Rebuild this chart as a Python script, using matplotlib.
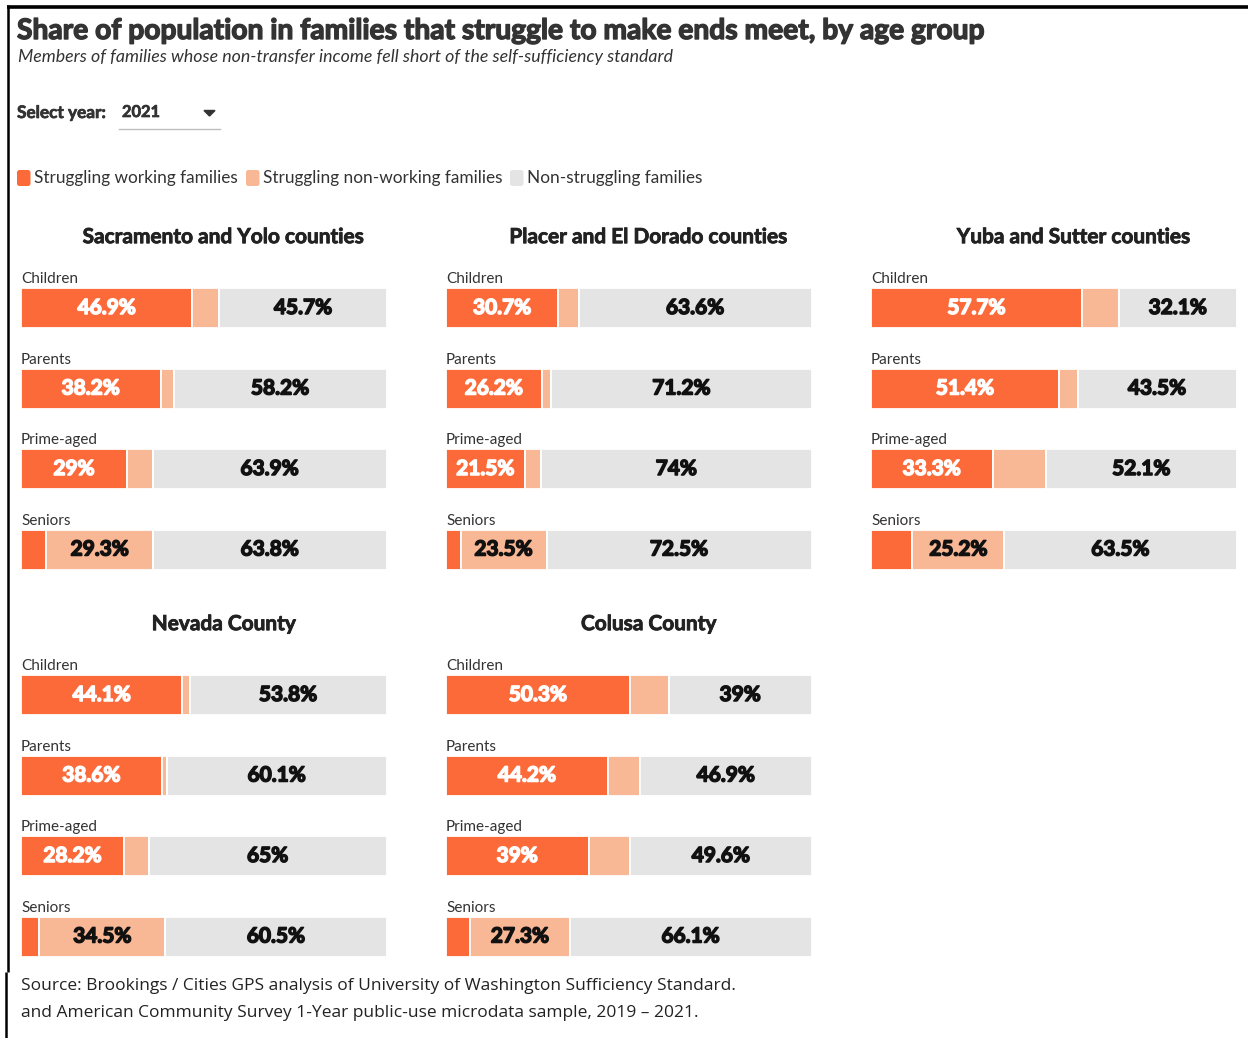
import matplotlib.pyplot as plt
import matplotlib.patheffects as pe
from matplotlib.patches import FancyBboxPatch, Polygon

W, H = 1248, 1038

title = "Share of population in families that struggle to make ends meet, by age group"
subtitle = "Members of families whose non-transfer income fell short of the self-sufficiency standard"
source_lines = [
    "Source: Brookings / Cities GPS analysis of University of Washington Sufficiency Standard.",
    "and American Community Survey 1-Year public-use microdata sample, 2019 \u2013 2021.",
]

series_names = ["Struggling working families", "Struggling non-working families", "Non-struggling families"]
age_groups = ["Children", "Parents", "Prime-aged", "Seniors"]
regions = [
    "Sacramento and Yolo counties",
    "Placer and El Dorado counties",
    "Yuba and Sutter counties",
    "Nevada County",
    "Colusa County",
]

# shares in percent, one list per region, ordered like age_groups
working = [
    [46.9, 38.2, 29.0, 6.9],
    [30.7, 26.2, 21.5, 4.0],
    [57.7, 51.4, 33.3, 11.3],
    [44.1, 38.6, 28.2, 5.0],
    [50.3, 44.2, 39.0, 6.6],
]
non_working = [
    [7.4, 3.6, 7.1, 29.3],
    [5.7, 2.6, 4.5, 23.5],
    [10.2, 5.1, 14.6, 25.2],
    [2.1, 1.3, 6.8, 34.5],
    [10.7, 8.9, 11.4, 27.3],
]
non_struggling = [
    [45.7, 58.2, 63.9, 63.8],
    [63.6, 71.2, 74.0, 72.5],
    [32.1, 43.5, 52.1, 63.5],
    [53.8, 60.1, 65.0, 60.5],
    [39.0, 46.9, 49.6, 66.1],
]

DARK = "#fc6a3a"
LIGHT = "#f8b795"
GRAY = "#e4e4e4"
colors = [DARK, LIGHT, GRAY]

plt.rcParams["font.family"] = ["Lato", "DejaVu Sans"]


def heavy(color, w=0.9):
    # thicken bold glyphs a little
    return [pe.withStroke(linewidth=w, foreground=color)]


fig = plt.figure(figsize=(W / 100, H / 100), dpi=100)

# background axes in pixel units for headings, legend and frame
bg = fig.add_axes([0, 0, 1, 1])
bg.set_xlim(0, W)
bg.set_ylim(H, 0)
bg.axis("off")

bg.plot([7, W], [6.5, 6.5], color="black", lw=2.6, solid_capstyle="butt")
bg.plot([8, 8], [5, 972], color="black", lw=1.8, solid_capstyle="butt")
bg.plot([5.5, 5.5], [972, H], color="black", lw=1.8, solid_capstyle="butt")

bg.text(17, 31, title, fontsize=20.3, fontweight="bold", color="#333333", va="center",
        path_effects=heavy("#333333", 1.0))
bg.text(18, 57, subtitle, fontsize=12.8, style="italic", color="#333333", va="center")

# year selector
bg.text(17, 113, "Select year:", fontsize=12.4, fontweight="bold", color="#333333", va="center",
        path_effects=heavy("#333333", 0.5))
bg.text(122, 113, "2021", fontsize=11.8, fontweight="bold", color="#333333", va="center",
        path_effects=heavy("#333333", 0.5))
bg.add_patch(Polygon([[204, 110.5], [215, 110.5], [209.5, 116]], closed=True, color="#333333"))
bg.plot([119, 220], [128.5, 128.5], color="#bdbdbd", lw=1)

# legend
leg_x = [17, 246, 510]
for x, name, c in zip(leg_x, series_names, colors):
    bg.add_patch(FancyBboxPatch((x, 170), 13.5, 16, boxstyle="round,pad=0,rounding_size=2.5",
                                facecolor=c, edgecolor="none"))
    bg.text(x + 17, 178, name, fontsize=12.4, color="#333333", va="center")

for i, line in enumerate(source_lines):
    bg.text(21, 986 + 27 * i, line, fontsize=12.5, family="Open Sans", color="#222222", va="center")

# small multiples
col_left = [21, 446, 871]
row_center = [308, 695]
step = 80.5
bar_w = 365.5

for k, region in enumerate(regions):
    x0 = col_left[k % 3]
    c0 = row_center[k // 3]
    top = c0 - step / 2
    ax = fig.add_axes([x0 / W, 1 - (top + 4 * step) / H, bar_w / W, 4 * step / H])
    ax.set_xlim(0, 100)
    ax.set_ylim(3.5, -0.5)
    ax.axis("off")

    ypos = list(range(len(age_groups)))
    segs = [working[k], non_working[k], non_struggling[k]]
    left = [0.0] * len(ypos)
    for vals, c in zip(segs, colors):
        ax.barh(ypos, vals, left=left, height=40 / step, color=c, edgecolor="white", linewidth=1.3)
        left = [l + v for l, v in zip(left, vals)]

    for i, grp in enumerate(age_groups):
        ax.text(0, i - 0.31, grp, fontsize=11, color="#333333", va="baseline", ha="left")
        w, nw, ns = working[k][i], non_working[k][i], non_struggling[k][i]
        if w >= nw:
            ax.text(w / 2, i, f"{w:g}%", color="white", fontsize=15, fontweight="bold",
                    ha="center", va="center", path_effects=heavy("white", 1.1))
        else:
            ax.text(w + nw / 2, i, f"{nw:g}%", color="#111111", fontsize=15, fontweight="bold",
                    ha="center", va="center", path_effects=heavy("#111111", 1.1))
        ax.text(w + nw + ns / 2, i, f"{ns:g}%", color="#111111", fontsize=15, fontweight="bold",
                ha="center", va="center", path_effects=heavy("#111111", 1.1))

    ax.text(55.5, -0.88, region, fontsize=15, fontweight="bold", color="#222222",
            ha="center", va="center", clip_on=False, path_effects=heavy("#222222", 0.6))

fig.savefig("out.png", dpi=100)
